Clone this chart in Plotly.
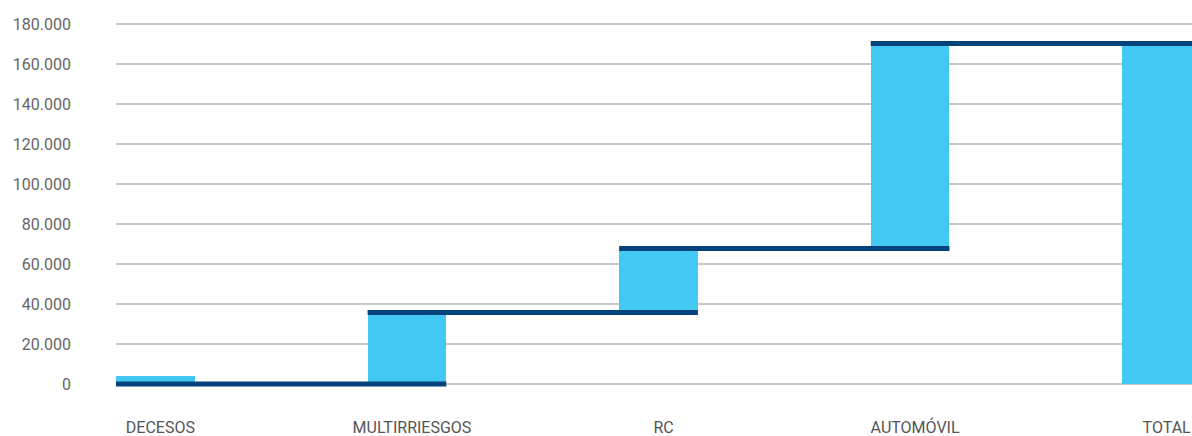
import plotly.graph_objects as go

# ---- data ----
categories = ["DECESOS", "MULTIRRIESGOS", "RC", "AUTOMÓVIL", "TOTAL"]
bar_base = [0, 0, 35700, 67800, 0]
bar_top = [4000, 35700, 67800, 170300, 170300]
step_levels = [0, 35700, 67800, 170300]  # connector level after each category
y_tick_values = [0, 20000, 40000, 60000, 80000, 100000, 120000, 140000, 160000, 180000]
y_tick_labels = ["0", "20.000", "40.000", "60.000", "80.000", "100.000",
                 "120.000", "140.000", "160.000", "180.000"]

BAR_COLOR = "#42C8F3"
LINE_COLOR = "#03427B"
BAR_WIDTH = 0.313

xpos = list(range(len(categories)))

fig = go.Figure()

fig.add_trace(go.Bar(
    x=xpos,
    y=[t - b for t, b in zip(bar_top, bar_base)],
    base=bar_base,
    width=BAR_WIDTH,
    marker=dict(color=BAR_COLOR, line=dict(width=0)),
    hoverinfo="skip",
    showlegend=False,
))

# connector step lines: from bar i left edge to bar i+1 right edge
for i, lvl in enumerate(step_levels):
    fig.add_trace(go.Scatter(
        x=[xpos[i] - BAR_WIDTH / 2, xpos[i + 1] + BAR_WIDTH / 2],
        y=[lvl, lvl],
        mode="lines",
        line=dict(color=LINE_COLOR, width=5),
        hoverinfo="skip",
        showlegend=False,
        cliponaxis=True,
    ))

fig.update_layout(
    width=1192,
    height=436,
    margin=dict(l=116, r=0, t=14, b=40, autoexpand=False),
    paper_bgcolor="white",
    plot_bgcolor="white",
    font=dict(family="Roboto", size=16, color="#666666"),
    bargap=0,
    showlegend=False,
)

fig.update_xaxes(
    range=[-0.1566, 4.1207],
    tickmode="array",
    tickvals=xpos,
    ticktext=categories,
    showgrid=False,
    zeroline=False,
    showline=False,
    ticks="",
    tickfont=dict(family="Roboto", size=16, color="#555555"),
    ticklabelstandoff=20,
    ticklabelshift=5,
    automargin=False,
    fixedrange=True,
)

fig.update_yaxes(
    range=[-6000, 185000],
    tickmode="array",
    tickvals=y_tick_values,
    ticktext=y_tick_labels,
    showgrid=True,
    gridcolor="#C8C8C8",
    gridwidth=2,
    zeroline=False,
    showline=False,
    ticks="",
    tickfont=dict(family="Roboto", size=16, color="#666666"),
    ticklabelstandoff=44,
    automargin=False,
    fixedrange=True,
)

fig.write_html("out.html")
